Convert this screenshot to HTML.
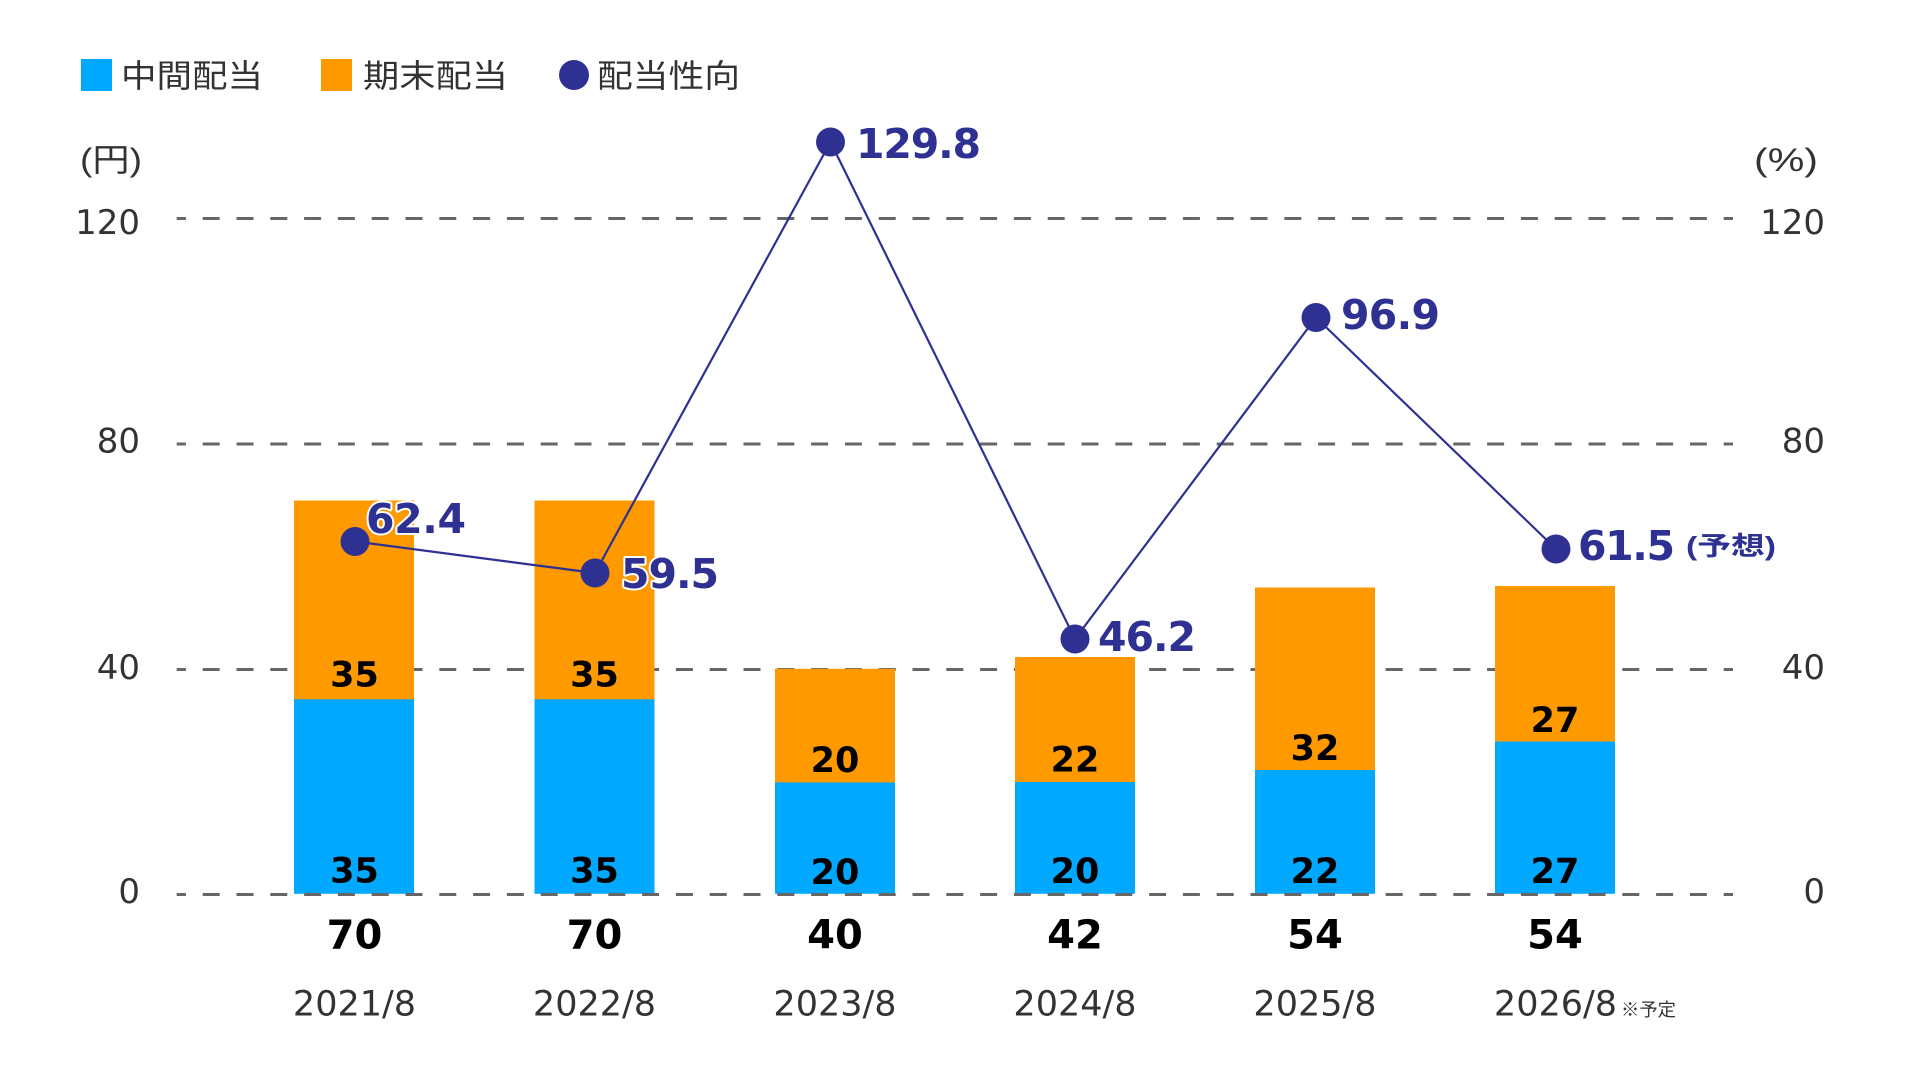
<!DOCTYPE html>
<html>
<head>
<meta charset="utf-8">
<style>
html,body{margin:0;padding:0;background:#fff;}
svg{display:block;}
.cjk{font-family:"Liberation Sans","Noto Sans CJK JP",sans-serif;}
.num{font-family:"DejaVu Sans","Noto Sans CJK JP",sans-serif;}
</style>
</head>
<body>
<svg width="1920" height="1081" viewBox="0 0 1920 1081" xmlns="http://www.w3.org/2000/svg">
  <rect x="0" y="0" width="1920" height="1081" fill="#fff"/>

  <!-- Legend -->
  <rect x="81" y="59" width="31" height="32" fill="#00A8FF"/>
  <text x="121" y="87" class="cjk" font-size="32" fill="#333" textLength="142" lengthAdjust="spacingAndGlyphs">中間配当</text>
  <rect x="321" y="59" width="31" height="32" fill="#FF9900"/>
  <text x="363" y="87" class="cjk" font-size="32" fill="#333" textLength="145" lengthAdjust="spacingAndGlyphs">期末配当</text>
  <circle cx="574" cy="75" r="15" fill="#2E3192"/>
  <text x="597" y="87" class="cjk" font-size="32" fill="#333" textLength="143" lengthAdjust="spacingAndGlyphs">配当性向</text>

  <!-- Axis titles -->
  <text x="80" y="171" class="cjk" font-size="32" fill="#333" textLength="62" lengthAdjust="spacingAndGlyphs">(円)</text>
  <text x="1754" y="171" class="cjk" font-size="32" fill="#333" textLength="64" lengthAdjust="spacingAndGlyphs">(%)</text>

  <!-- Gridlines -->
  <g stroke="#666" stroke-width="3" stroke-dasharray="17 16.8" stroke-dashoffset="7.8" fill="none">
    <line x1="176.7" y1="218.5" x2="1733" y2="218.5"/>
    <line x1="176.7" y1="444" x2="1733" y2="444"/>
    <line x1="176.7" y1="669.5" x2="1733" y2="669.5"/>
  </g>

  <!-- Left axis labels -->
  <g class="num" font-size="34" fill="#333" text-anchor="end">
    <text x="140" y="234">120</text>
    <text x="140" y="452.5">80</text>
    <text x="140" y="679">40</text>
    <text x="140" y="903">0</text>
  </g>
  <!-- Right axis labels -->
  <g class="num" font-size="34" fill="#333" text-anchor="end">
    <text x="1825" y="234">120</text>
    <text x="1825" y="452.5">80</text>
    <text x="1825" y="679">40</text>
    <text x="1825" y="903">0</text>
  </g>

  <!-- Bars -->
  <g>
    <rect x="294" y="500.5" width="120" height="199" fill="#FF9900"/>
    <rect x="294" y="699.3" width="120" height="194.5" fill="#00A8FF"/>

    <rect x="534.5" y="500.5" width="120" height="199" fill="#FF9900"/>
    <rect x="534.5" y="699.3" width="120" height="194.5" fill="#00A8FF"/>

    <rect x="775" y="668.8" width="120" height="113.8" fill="#FF9900"/>
    <rect x="775" y="782.4" width="120" height="111.4" fill="#00A8FF"/>

    <rect x="1015" y="657" width="120" height="125.2" fill="#FF9900"/>
    <rect x="1015" y="782" width="120" height="111.8" fill="#00A8FF"/>

    <rect x="1255" y="587.5" width="120" height="182.7" fill="#FF9900"/>
    <rect x="1255" y="770" width="120" height="123.8" fill="#00A8FF"/>

    <rect x="1495" y="586" width="120" height="155.7" fill="#FF9900"/>
    <rect x="1495" y="741.5" width="120" height="152.3" fill="#00A8FF"/>
  </g>

  <!-- zero gridline on top -->
  <line x1="176.7" y1="894.5" x2="1733" y2="894.5" stroke="#666" stroke-width="3" stroke-dasharray="17 16.8" stroke-dashoffset="7.8"/>

  <!-- Bar labels -->
  <g class="num" font-size="35" font-weight="bold" fill="#000" text-anchor="middle">
    <text x="354.5" y="686.5">35</text>
    <text x="354.5" y="882.7">35</text>
    <text x="594.5" y="686.5">35</text>
    <text x="594.5" y="882.7">35</text>
    <text x="835" y="772">20</text>
    <text x="835" y="884">20</text>
    <text x="1075" y="771.5">22</text>
    <text x="1075" y="883">20</text>
    <text x="1315" y="760">32</text>
    <text x="1315" y="883">22</text>
    <text x="1555" y="732">27</text>
    <text x="1555" y="883">27</text>
  </g>

  <!-- Totals -->
  <g class="num" font-size="40" font-weight="bold" fill="#000" text-anchor="middle">
    <text x="354.5" y="948.3">70</text>
    <text x="594.5" y="948.3">70</text>
    <text x="835" y="948.3">40</text>
    <text x="1075" y="948.3">42</text>
    <text x="1315" y="948.3">54</text>
    <text x="1555" y="948.3">54</text>
  </g>

  <!-- Category labels -->
  <g class="num" font-size="35" fill="#333" text-anchor="middle">
    <text x="354.5" y="1015.5">2021/8</text>
    <text x="594.5" y="1015.5">2022/8</text>
    <text x="835" y="1015.5">2023/8</text>
    <text x="1075" y="1015.5">2024/8</text>
    <text x="1315" y="1015.5">2025/8</text>
    <text x="1555.5" y="1015.5">2026/8</text>
  </g>
  <text x="1621" y="1016" class="cjk" font-size="18" fill="#333" textLength="55" lengthAdjust="spacingAndGlyphs">※予定</text>

  <!-- Payout ratio line -->
  <polyline points="355,541.5 595,573 830.5,142 1075,639 1316,317.5 1556,549" fill="none" stroke="#2E3192" stroke-width="2.2"/>
  <g fill="#2E3192">
    <circle cx="355" cy="541.5" r="14.5"/>
    <circle cx="595" cy="573" r="14.5"/>
    <circle cx="830.5" cy="142" r="14.5"/>
    <circle cx="1075" cy="639" r="14.5"/>
    <circle cx="1316" cy="317.5" r="14.5"/>
    <circle cx="1556" cy="549" r="14.5"/>
  </g>

  <!-- Payout labels -->
  <g class="num" font-size="41" font-weight="bold" fill="#2E3192" stroke="#fff" stroke-width="4" stroke-linejoin="round" style="paint-order:stroke fill">
    <text x="366" y="533" textLength="100">62.4</text>
    <text x="621" y="588" textLength="98">59.5</text>
    <text x="856" y="158" textLength="125">129.8</text>
    <text x="1098" y="651" textLength="98">46.2</text>
    <text x="1341" y="329" textLength="99">96.9</text>
    <text x="1578" y="560" textLength="97">61.5</text>
  </g>
  <text x="1686" y="555" class="cjk" font-size="26" font-weight="bold" fill="#2E3192" textLength="90" lengthAdjust="spacingAndGlyphs">(予想)</text>
</svg>
</body>
</html>
